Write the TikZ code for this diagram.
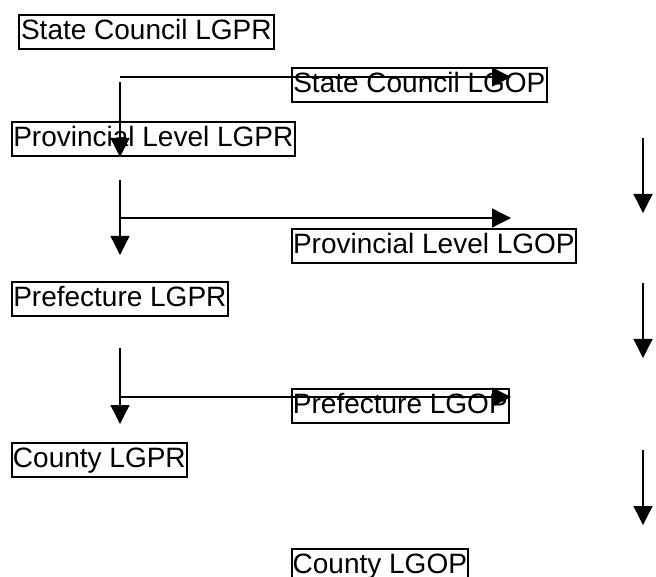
\documentclass[tikz,border=0pt]{standalone}
\usepackage{fontspec}
\setmainfont{Liberation Sans}
\usetikzlibrary{arrows.meta}
\tikzset{
  lbox/.style={draw, line width=1.7pt, anchor=north west, inner xsep=0pt, inner ysep=0pt,
    text height=25pt, text depth=9pt, font=\fontsize{28}{32}\selectfont},
  conn/.style={line width=1.3pt, -{Triangle[length=19pt,width=19pt]}}
}
\begin{document}
\begin{tikzpicture}[x=1pt,y=-1pt]
\clip (0,0) rectangle (656,577);
\useasboundingbox (0,0) rectangle (656,577);
% nodes
\node[lbox, minimum width=255pt] (scpr) at (18,14) {State Council LGPR};
\node[lbox, minimum width=255pt] (scop) at (291,67) {State Council LGOP};
\node[lbox, minimum width=283pt] (pvpr) at (11,121) {Provincial Level LGPR};
\node[lbox, minimum width=284pt] (pvop) at (291,228) {Provincial Level LGOP};
\node[lbox, minimum width=216pt] (pfpr) at (11,281) {Prefecture LGPR};
\node[lbox, minimum width=217pt] (pfop) at (291,388) {Prefecture LGOP};
\node[lbox, minimum width=175pt] (cypr) at (11,442) {County LGPR};
\node[lbox, minimum width=176pt] (cyop) at (291,548) {County LGOP};
% connector end points
\coordinate (h1s) at (120,77);  \coordinate (h1e) at (511,77);
\coordinate (v1s) at (120,82);  \coordinate (v1e) at (120,157);
\coordinate (v2s) at (120,180); \coordinate (v2e) at (120,255);
\coordinate (h2s) at (120,218); \coordinate (h2e) at (511,218);
\coordinate (v3s) at (120,348); \coordinate (v3e) at (120,424);
\coordinate (h3s) at (120,397); \coordinate (h3e) at (511,397);
\coordinate (r1s) at (643,138); \coordinate (r1e) at (643,213);
\coordinate (r2s) at (643,283); \coordinate (r2e) at (643,358);
\coordinate (r3s) at (643,450); \coordinate (r3e) at (643,525);
% connectors
\draw[conn] (h1s) -- (h1e);
\draw[conn] (v1s) -- (v1e);
\draw[conn] (v2s) -- (v2e);
\draw[conn] (h2s) -- (h2e);
\draw[conn] (v3s) -- (v3e);
\draw[conn] (h3s) -- (h3e);
\draw[conn] (r1s) -- (r1e);
\draw[conn] (r2s) -- (r2e);
\draw[conn] (r3s) -- (r3e);
\end{tikzpicture}
\end{document}
